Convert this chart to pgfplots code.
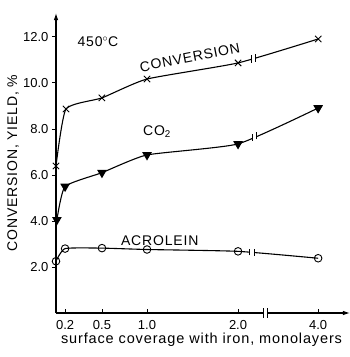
\documentclass[border=0pt]{standalone}
\usepackage{fontspec}
\setmainfont{Liberation Sans}
\newfontfamily\lsp[LetterSpace=6]{Liberation Sans}
\usepackage{pgfplots}
\usepackage{pgfplotstable}
\pgfplotsset{compat=1.18}
\usetikzlibrary{arrows.meta}

\pgfplotstableread{
x y
0 6.39
0.11 8.87
0.505 9.35
1.0 10.17
2.0 10.87
2.88 11.91
}\conv
\pgfplotstableread{
x y
0.01 4.05
0.1 5.5
0.505 6.1
1.0 6.87
2.0 7.35
2.88 8.91
}\cotwo
\pgfplotstableread{
x y
0 2.25
0.1 2.8
0.505 2.82
1.0 2.76
2.0 2.68
2.88 2.38
}\acro

\begin{document}
\begin{tikzpicture}
\begin{axis}[
  at={(0,0)}, anchor=south west,
  scale only axis, width=294pt, height=300pt,
  xmin=0, xmax=3.23, ymin=0, ymax=13.04,
  axis lines=left,
  axis line style={line width=1.1pt, -{Latex[length=7pt,width=4.5pt]}},
  tick style={line width=0.9pt, black},
  major tick length=4pt,
  xtick={0.1,0.505,1,2,2.88}, xticklabels={0.2,0.5,1.0,2.0,4.0},
  ytick={2,4,6,8,10,12}, yticklabels={2.0,4.0,6.0,8.0,10.0,12.0},
  tick align=outside,
  x tick style={yshift=4pt},
  tick label style={font=\fontsize{13}{15}\selectfont},
  xlabel={\lsp\fontsize{14.5}{17}\selectfont surface coverage with iron, monolayers},
  ylabel={\lsp\fontsize{14}{16}\selectfont CONVERSION, YIELD, \%},
  xlabel style={at={(axis description cs:0.495,-0.09)}, anchor=center},
  ylabel style={at={(axis description cs:-0.146,0.5)}, anchor=center},
  clip=false,
]
\addplot[black, line width=1.1pt, smooth, tension=0.3, mark=x, mark size=4.5pt,
  mark options={line width=0.9pt}] table {\conv};
\addplot[black, line width=1.1pt, smooth, tension=0.3, mark=triangle*, mark size=4.5pt,
  mark options={rotate=180, fill=black}] table {\cotwo};
\addplot[black, line width=1.1pt, smooth, tension=0.3, mark=o, mark size=3.8pt,
  mark options={fill=white, line width=0.9pt}] table {\acro};

% axis and curve breaks
\fill[white] (axis cs:2.28,-0.2) rectangle (axis cs:2.32,0.2);
\draw[line width=0.8pt] (axis cs:2.275,-0.2) -- (axis cs:2.275,0.2);
\draw[line width=0.8pt] (axis cs:2.325,-0.2) -- (axis cs:2.325,0.2);
\fill[white] (axis cs:2.15,10.8) rectangle (axis cs:2.19,11.3);
\draw[line width=0.8pt] (axis cs:2.145,10.88) -- (axis cs:2.145,11.2);
\draw[line width=0.8pt] (axis cs:2.195,10.92) -- (axis cs:2.195,11.24);
\fill[white] (axis cs:2.16,7.4) rectangle (axis cs:2.20,7.9);
\draw[line width=0.8pt] (axis cs:2.155,7.48) -- (axis cs:2.155,7.8);
\draw[line width=0.8pt] (axis cs:2.205,7.55) -- (axis cs:2.205,7.87);
\fill[white] (axis cs:2.13,2.45) rectangle (axis cs:2.17,2.9);
\draw[line width=0.8pt] (axis cs:2.125,2.5) -- (axis cs:2.125,2.8);
\draw[line width=0.8pt] (axis cs:2.175,2.48) -- (axis cs:2.175,2.78);

\node[font=\lsp\fontsize{14}{16}\selectfont] at (axis cs:0.46,11.8) {450$^\circ$C};
\node[font=\lsp\fontsize{14}{16}\selectfont, rotate=11] at (axis cs:1.47,11.1) {CONVERSION};
\node[font=\lsp\fontsize{14}{16}\selectfont] at (axis cs:1.11,7.9) {CO\textsubscript{2}};
\node[font=\lsp\fontsize{14}{16}\selectfont] at (axis cs:1.14,3.15) {ACROLEIN};
\end{axis}
\pgfresetboundingbox
\path[use as bounding box] (-56pt,-44pt) rectangle (294pt,313pt);
\end{tikzpicture}
\end{document}
